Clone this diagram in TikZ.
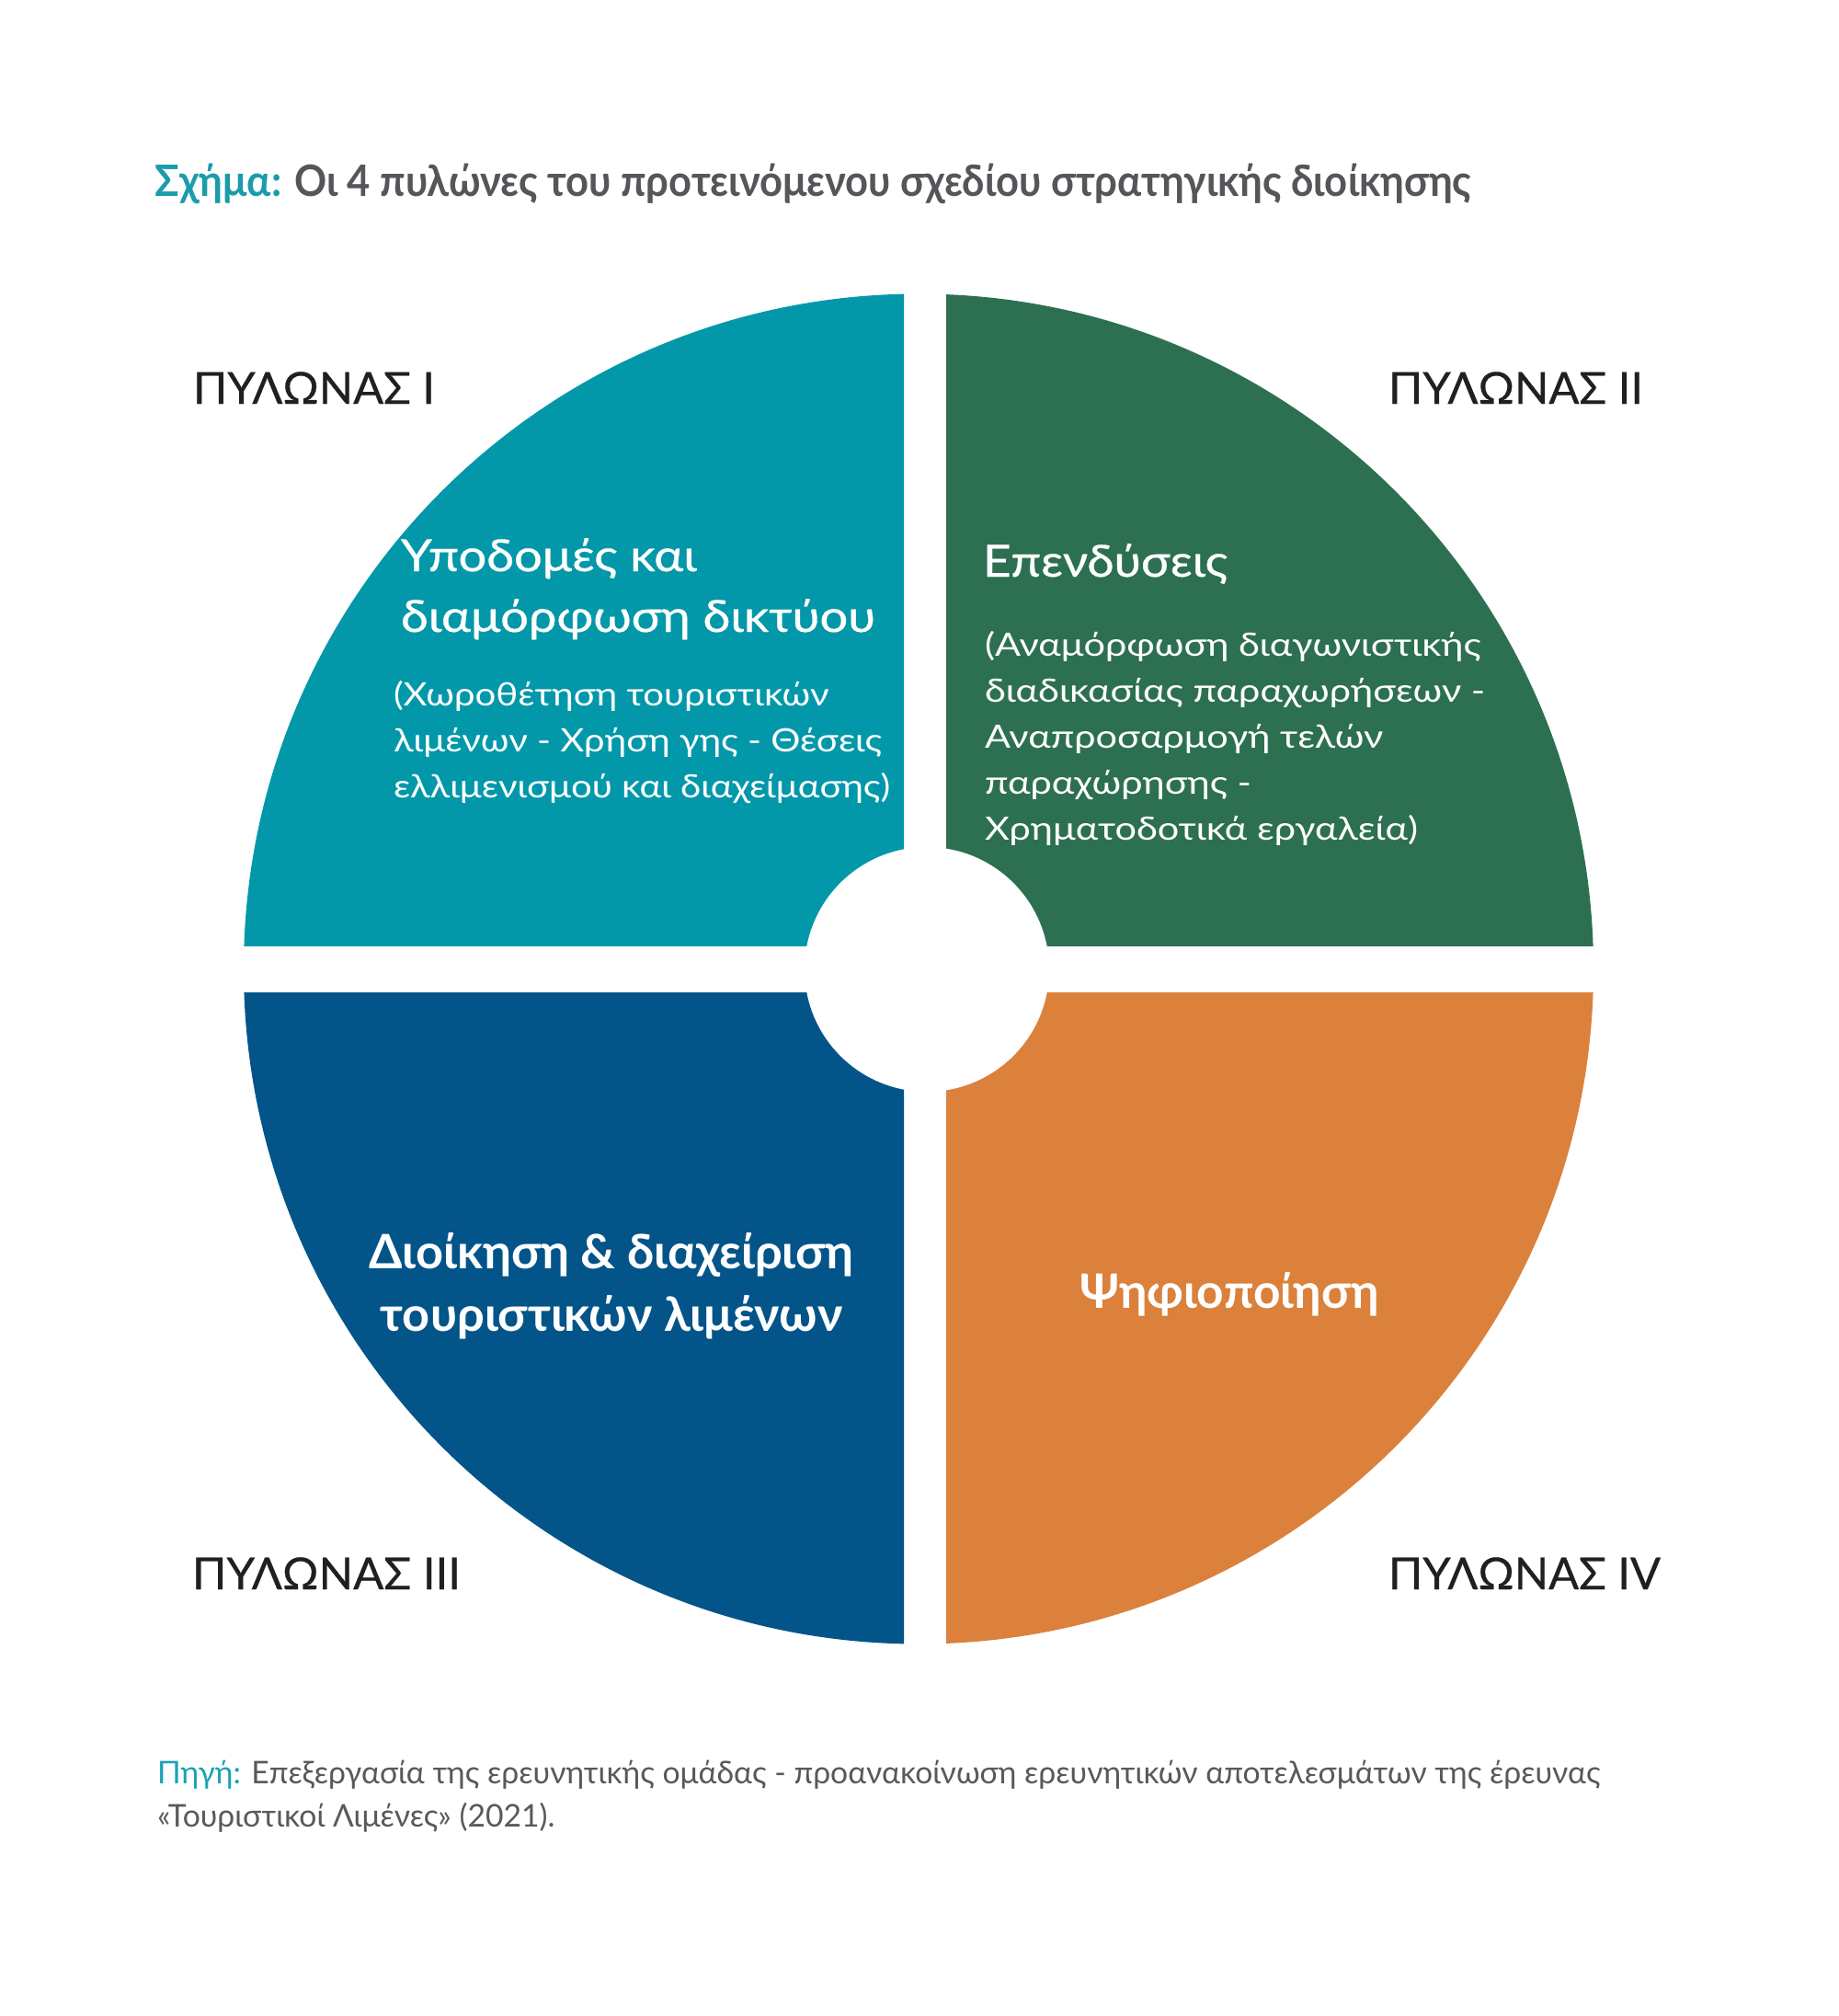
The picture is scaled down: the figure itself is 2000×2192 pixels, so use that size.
\documentclass[tikz,border=0pt]{standalone}
\usepackage{fontspec}
\usepackage{graphicx}
\setmainfont{Lato}
\newfontfamily\medfont[FakeBold=0.6]{Lato}
\newfontfamily\labfont[FakeBold=0.5]{Lato}
\definecolor{qteal}{HTML}{0398A9}
\definecolor{qgreen}{HTML}{2D7051}
\definecolor{qblue}{HTML}{035489}
\definecolor{qorange}{HTML}{DB813B}
\definecolor{titleteal}{HTML}{1A9CAB}
\definecolor{titlegray}{HTML}{55565A}
\definecolor{labeldark}{HTML}{231F20}
\definecolor{notegray}{HTML}{58595B}
\definecolor{noteteal}{HTML}{1AA3B5}
\newcommand{\fitto}[2]{\resizebox{#1}{\height}{#2}}
\begin{document}
\begin{tikzpicture}[x=0.5pt,y=-0.5pt,
  txt/.style={inner sep=0pt,outer sep=0pt,anchor=base west},
  pylon/.style={txt,text=labeldark},
  intxt/.style={txt,text=white}]
\useasboundingbox (0,0) rectangle (2000,2192);
\fill[white] (0,0) rectangle (2000,2192);
\coordinate (C) at (999,1053.5);
\coordinate (H) at (1008,1054);
% quadrants
\begin{scope}
  \clip (0,0) rectangle (983,1028);
  \fill[qteal] (C) circle[radius=367pt];
\end{scope}
\begin{scope}
  \clip (1029,0) rectangle (2000,1028);
  \fill[qgreen] (C) circle[radius=367pt];
\end{scope}
\begin{scope}
  \clip (0,1079) rectangle (983,2192);
  \fill[qblue] (C) circle[radius=367pt];
\end{scope}
\begin{scope}
  \clip (1029,1079) rectangle (2000,2192);
  \fill[qorange] (C) circle[radius=367pt];
\end{scope}
\fill[white] (H) circle[radius=66.5pt];
% title
\node[txt] (title) at (169,213) {\fitto{715.5pt}{\fontsize{23.5}{28}\selectfont\bfseries\textcolor{titleteal}{Σχήμα:} \textcolor{titlegray}{Οι 4 πυλώνες του προτεινόμενου σχεδίου στρατηγικής διοίκησης}}};
% pillar labels
\node[pylon] (p1) at (210,439) {\fitto{131.5pt}{\labfont\fontsize{24}{28}\selectfont ΠΥΛΩΝΑΣ I}};
\node[pylon] (p2) at (1510,439) {\fitto{138.5pt}{\labfont\fontsize{24}{28}\selectfont ΠΥΛΩΝΑΣ II}};
\node[pylon] (p3) at (209,1728) {\fitto{146pt}{\labfont\fontsize{24}{28}\selectfont ΠΥΛΩΝΑΣ III}};
\node[pylon] (p4) at (1510,1728) {\fitto{148pt}{\labfont\fontsize{24}{28}\selectfont ΠΥΛΩΝΑΣ IV}};
% quadrant I
\node[intxt] (h1) at (436,621) {\fitto{258pt}{\medfont\fontsize{24}{33}\selectfont\begin{tabular}[t]{@{}l@{}}Υποδομές και\\διαμόρφωση δικτύου\end{tabular}}};
\node[intxt] (s1) at (428,767) {\fitto{270pt}{\fontsize{17.5}{25}\selectfont\begin{tabular}[t]{@{}l@{}}(Χωροθέτηση τουριστικών\\λιμένων - Χρήση γης - Θέσεις\\ελλιμενισμού και διαχείμασης)\end{tabular}}};
% quadrant II
\node[intxt] (h2) at (1069,627) {\fitto{133pt}{\medfont\fontsize{24}{33}\selectfont Επενδύσεις}};
\node[intxt] (s2) at (1071,713) {\fitto{272pt}{\fontsize{17.5}{25}\selectfont\begin{tabular}[t]{@{}l@{}}(Αναμόρφωση διαγωνιστικής\\διαδικασίας παραχωρήσεων -\\Αναπροσαρμογή τελών\\παραχώρησης -\\Χρηματοδοτικά εργαλεία)\end{tabular}}};
% quadrant III
\node[intxt,anchor=base] (h3) at (665,1379) {\fitto{263.5pt}{\fontsize{25.8}{34}\selectfont\bfseries\begin{tabular}[t]{@{}c@{}}Διοίκηση \& διαχείριση\\τουριστικών λιμένων\end{tabular}}};
% quadrant IV
\node[intxt,anchor=base] (h4) at (1337,1422) {\fitto{162.5pt}{\fontsize{25.8}{34}\selectfont\bfseries Ψηφιοποίηση}};
% source
\node[txt,text=notegray] (src) at (171,1939) {\fitto{784.5pt}{\fontsize{17}{23.5}\selectfont\begin{tabular}[t]{@{}l@{}}\textcolor{noteteal}{Πηγή:} Επεξεργασία της ερευνητικής ομάδας - προανακοίνωση ερευνητικών αποτελεσμάτων της έρευνας\\«Τουριστικοί Λιμένες» (2021).\end{tabular}}};
\end{tikzpicture}
\end{document}
